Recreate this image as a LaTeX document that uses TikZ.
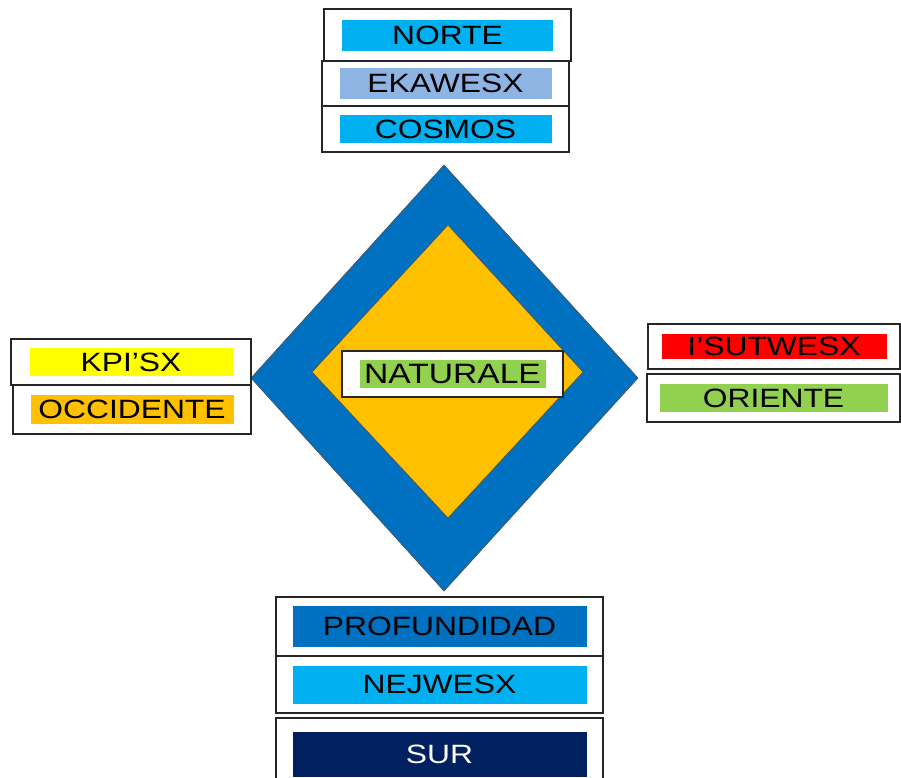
\documentclass[tikz,border=0pt]{standalone}
\usepackage{fontspec}
\setmainfont{Liberation Sans}[FakeStretch=1.2]
\usepackage{xcolor}
\usepackage{tikz}
\definecolor{celeste}{HTML}{00B0F0}
\definecolor{lavanda}{HTML}{8EB4E3}
\definecolor{amarillo}{HTML}{FFFF00}
\definecolor{ambar}{HTML}{FFC000}
\definecolor{rojo}{HTML}{FF0000}
\definecolor{verde}{HTML}{92D050}
\definecolor{azul}{HTML}{0070C0}
\definecolor{marino}{HTML}{002060}
\tikzset{
frame/.style={
  draw=black!85,
  line width=1.1pt,
  fill=white,
  inner sep=0pt
},
chip/.style={
  inner sep=0pt,
  font=\fontsize{26.5}{28}\selectfont
},
%rhomb/.style={draw=black!70,line width=0.6pt},
rhomb/.style={draw=black!70,line width=0.6pt},
}

\begin{document}
\begin{tikzpicture}[x=1pt,y=-1pt]
\clip (0,0) rectangle (901,777);
\fill[white] (0,0) rectangle (901,777);
% the diamonds
\draw[rhomb,fill=azul]
  (444,165) -- (638,378) -- (444,591) -- (251,378) -- cycle;
\draw[rhomb,fill=ambar]
  (448,225) -- (583,372) -- (448,518) -- (312,372) -- cycle;
% the labels
\foreach \n/\x/\y/\w/\h/\fw/\fh/\col/\tc/\txt in {
  norte/447.5/35/247/52/211/31/celeste/black/NORTE,
  ekawesx/445.5/83.5/247/45/212/31/lavanda/black/EKAWESX,
  cosmos/445.5/129/247/46/212/28/celeste/black/COSMOS,
  kpisx/131/362/240/46/203/28/amarillo/black/KPI’SX,
  occidente/132/409.5/238/49/203/29/ambar/black/OCCIDENTE,
  isutwesx/774/346.5/252/45/225/25/rojo/black/I’SUTWESX,
  oriente/773.5/398/253/48/228/28/verde/black/ORIENTE,
  profundidad/439.5/626.5/327/59/294/41/azul/black/PROFUNDIDAD,
  nejwesx/439.5/684.5/327/57/294/38/celeste/black/NEJWESX,
  sur/439.5/754/327/72/294/45/marino/white/SUR%
}
{
  \node[frame,minimum width=\w pt,minimum height=\h pt] (box-\n) at (\x,\y) {};
  \node[chip,fill=\col,text=\tc,minimum width=\fw pt,minimum height=\fh pt]
    (chip-\n) at (box-\n.center) {\txt};
}
% the centre
\node[frame,minimum width=221pt,minimum height=46pt] (box-naturale) at (452.5,374) {};
\node[chip,fill=verde,minimum width=186pt,minimum height=28pt,
  font=\fontsize{28}{30}\selectfont] (chip-naturale) at (box-naturale.center) {NATURALE};
\end{tikzpicture}
\end{document}
